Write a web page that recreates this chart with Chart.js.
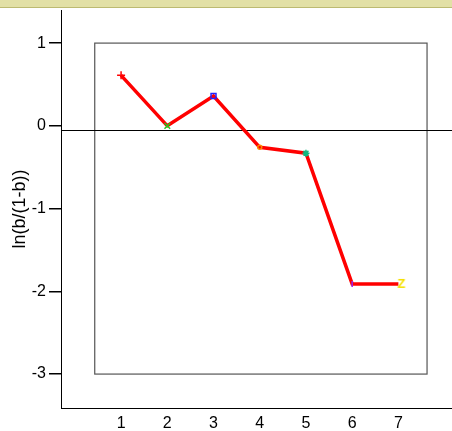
<!DOCTYPE html>
<html>
<head>
<meta charset="utf-8">
<script src="https://cdn.jsdelivr.net/npm/chart.js@4/dist/chart.umd.min.js"></script>
<style>
  html, body { margin: 0; padding: 0; background: #fff; }
  #wrap { position: relative; width: 452px; height: 431px; }
  #band { position: absolute; left: 0; top: 0; width: 452px; height: 7px; background: #e2e0a6; border-bottom: 1px solid #bcba72; }
  canvas { position: absolute; left: 0; top: 0; }
</style>
</head>
<body>
<div id="wrap">
  <canvas id="chart" width="452" height="431"></canvas>
  <div id="band"></div>
</div>
<script>
// data
const groups = [1, 2, 3, 4, 5, 6, 7];
const logit = [0.61, 0.00, 0.36, -0.26, -0.33, -1.91, -1.91];
const xTicks = [1, 2, 3, 4, 5, 6, 7];
const yTicks = [-3, -2, -1, 0, 1];
const frameX = [0.43, 7.62];
const frameY = [-3, 1];
const refLine = -0.045;

// marker looks, one per point
const markStyles = ['cross', 'crossRot', 'rect', 'circle', 'star', 'line', 'Z'];
const markColors = ['#ff0000', '#22cc22', '#2222ff', '#ff8800', '#10b880', '#9922ee', '#f5e000'];

function letterMark(ch, color) {
  const c = document.createElement('canvas');
  c.width = 20; c.height = 14;
  const g = c.getContext('2d');
  g.fillStyle = color;
  g.font = 'bold 13px "Liberation Sans", Arial, sans-serif';
  g.textAlign = 'center';
  g.textBaseline = 'middle';
  g.fillText(ch, 13, 7);
  return c;
}

const pointStyles = markStyles.map((s, i) => s.length === 1 ? letterMark(s, markColors[i]) : s);

const framePlugin = {
  id: 'frame',
  beforeDatasetsDraw(chart) {
    const { ctx, chartArea, scales: { x, y } } = chart;
    ctx.save();
    ctx.strokeStyle = '#555';
    ctx.lineWidth = 1.2;
    const l = x.getPixelForValue(frameX[0]), r = x.getPixelForValue(frameX[1]);
    const t = y.getPixelForValue(frameY[1]), b = y.getPixelForValue(frameY[0]);
    ctx.strokeRect(l, t, r - l, b - t);
    ctx.strokeStyle = '#000';
    ctx.lineWidth = 1;
    const zy = Math.round(y.getPixelForValue(refLine)) + 0.5;
    ctx.beginPath();
    ctx.moveTo(chartArea.left, zy);
    ctx.lineTo(chartArea.right, zy);
    ctx.stroke();
    ctx.restore();
  }
};

const font = { family: '"Liberation Sans", Arial, sans-serif', size: 16 };

new Chart(document.getElementById('chart').getContext('2d'), {
  type: 'line',
  data: {
    datasets: [{
      data: groups.map((g, i) => ({ x: g, y: logit[i] })),
      borderColor: '#ff0000',
      borderWidth: 3.5,
      tension: 0,
      pointStyle: pointStyles,
      pointRadius: [4, 4, 3.5, 2, 3.5, 3, 7],
      pointRotation: [0, 0, 0, 0, 0, 90, 0],
      pointBorderColor: markColors,
      pointBackgroundColor: 'rgba(0,0,0,0)',
      pointBorderWidth: 1.5
    }]
  },
  options: {
    responsive: false,
    animation: false,
    layout: { autoPadding: false, padding: { top: 10, left: 0, right: 0, bottom: 0 } },
    plugins: { legend: { display: false }, tooltip: { enabled: false } },
    scales: {
      x: {
        type: 'linear',
        min: -0.3,
        max: 8.16,
        afterBuildTicks: s => { s.ticks = xTicks.map(v => ({ value: v })); },
        afterFit: s => { s.height = 23; s.paddingLeft = 0; s.paddingRight = 0; },
        grid: { display: false, drawTicks: false },
        border: { display: true, color: '#000', width: 1 },
        ticks: { color: '#000', font, padding: 6, maxRotation: 0, autoSkip: false }
      },
      y: {
        min: -3.41,
        max: 1.4,
        afterBuildTicks: s => { s.ticks = yTicks.map(v => ({ value: v })); },
        afterFit: s => { s.width = 61; s.paddingTop = 0; s.paddingBottom = 0; },
        grid: { drawOnChartArea: false, drawTicks: true, tickLength: 12, color: '#000', lineWidth: 1.5 },
        border: { display: true, color: '#000', width: 1 },
        ticks: { color: '#000', font, padding: 3 },
        title: {
          display: true,
          text: 'ln(b/(1-b))',
          color: '#000',
          font: { family: '"Liberation Sans", Arial, sans-serif', size: 18 },
          padding: { top: 9, bottom: 0 }
        }
      }
    }
  },
  plugins: [framePlugin]
});
</script>
</body>
</html>
